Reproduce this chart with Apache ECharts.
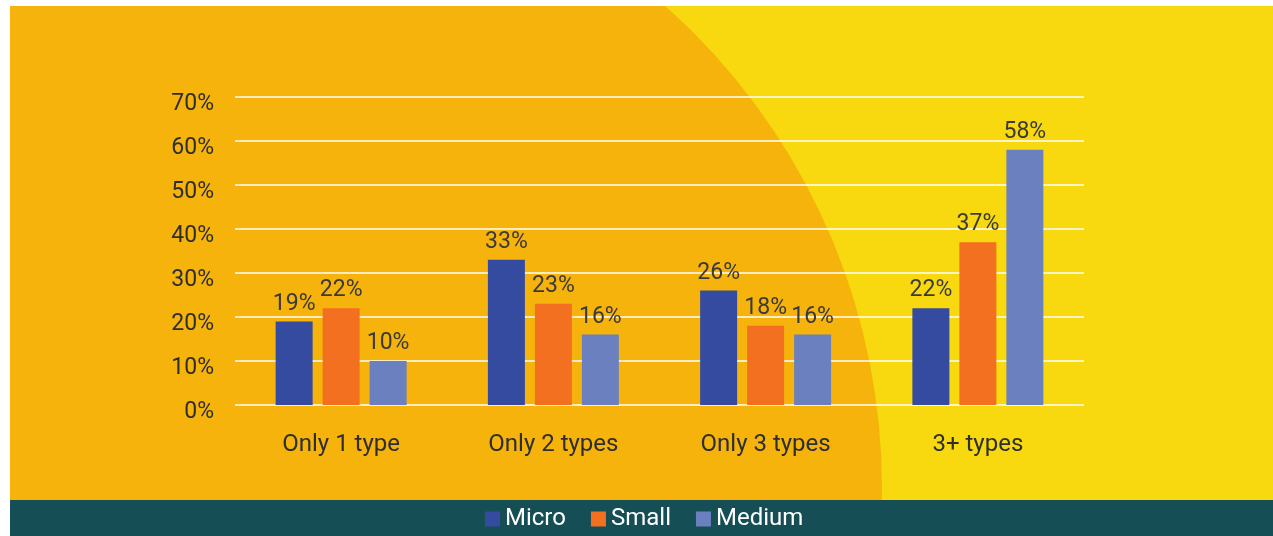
<!DOCTYPE html>
<html>
<head>
<meta charset="utf-8">
<script src="https://cdn.jsdelivr.net/npm/echarts@6/dist/echarts.min.js"></script>
<style>
  html, body { margin: 0; padding: 0; background: #fff; }
  #chart { width: 1273px; height: 536px; }
</style>
</head>
<body>
<div id="chart"></div>
<script>
// data
const categories = ['Only 1 type', 'Only 2 types', 'Only 3 types', '3+ types'];
const micro = [19, 33, 26, 22];
const small = [22, 23, 18, 37];
const medium = [10, 16, 16, 58];

const FONT = 'Roboto';
const textDark = '#2e2e2e';

const chart = echarts.init(document.getElementById('chart'));

function barSeries(name, data, color) {
  return {
    name: name,
    type: 'bar',
    data: data,
    barWidth: 37,
    barGap: '27%',
    itemStyle: { color: color },
    label: {
      show: true,
      position: 'top',
      distance: 6,
      formatter: '{c}%',
      color: '#3a3a3a',
      fontFamily: FONT,
      fontSize: 23
    }
  };
}

const option = {
  backgroundColor: '#ffffff',
  animation: false,
  // background shapes (decoration only)
  graphic: [
    { type: 'rect', z: -10, shape: { x: 10, y: 6, width: 1263, height: 494 }, style: { fill: '#F8D80E' } },
    { type: 'circle', z: -9, shape: { cx: 238, cy: 488, r: 644 }, style: { fill: '#F5B30B' } },
    { type: 'rect', z: -8, shape: { x: 0, y: 0, width: 1273, height: 6 }, style: { fill: '#ffffff' } },
    { type: 'rect', z: -8, shape: { x: 0, y: 0, width: 10, height: 536 }, style: { fill: '#ffffff' } },
    { type: 'rect', z: -8, shape: { x: 10, y: 500, width: 1263, height: 36 }, style: { fill: '#154E55' } }
  ],
  grid: { left: 235, right: 189, top: 97, bottom: 131 },
  legend: {
    left: 480,
    top: 502,
    icon: 'rect',
    itemWidth: 15,
    itemHeight: 15,
    itemGap: 25,
    textStyle: { color: '#ffffff', fontFamily: FONT, fontSize: 24 },
    data: ['Micro', 'Small', 'Medium']
  },
  xAxis: {
    type: 'category',
    data: categories,
    axisLine: { show: false },
    axisTick: { show: false },
    axisLabel: { color: textDark, fontFamily: FONT, fontSize: 24, margin: 28 }
  },
  yAxis: {
    type: 'value',
    min: 0,
    max: 70,
    interval: 10,
    axisLine: { show: false },
    axisTick: { show: false },
    splitLine: { lineStyle: { color: '#ffffff', width: 1.5 } },
    axisLabel: {
      color: textDark,
      fontFamily: FONT,
      fontSize: 23,
      margin: 21,
      verticalAlign: 'top',
      lineHeight: 14,
      formatter: '{value}%'
    }
  },
  series: [
    barSeries('Micro', micro, '#354BA0'),
    barSeries('Small', small, '#F37021'),
    barSeries('Medium', medium, '#6B80BF')
  ]
};

chart.setOption(option);
</script>
</body>
</html>
